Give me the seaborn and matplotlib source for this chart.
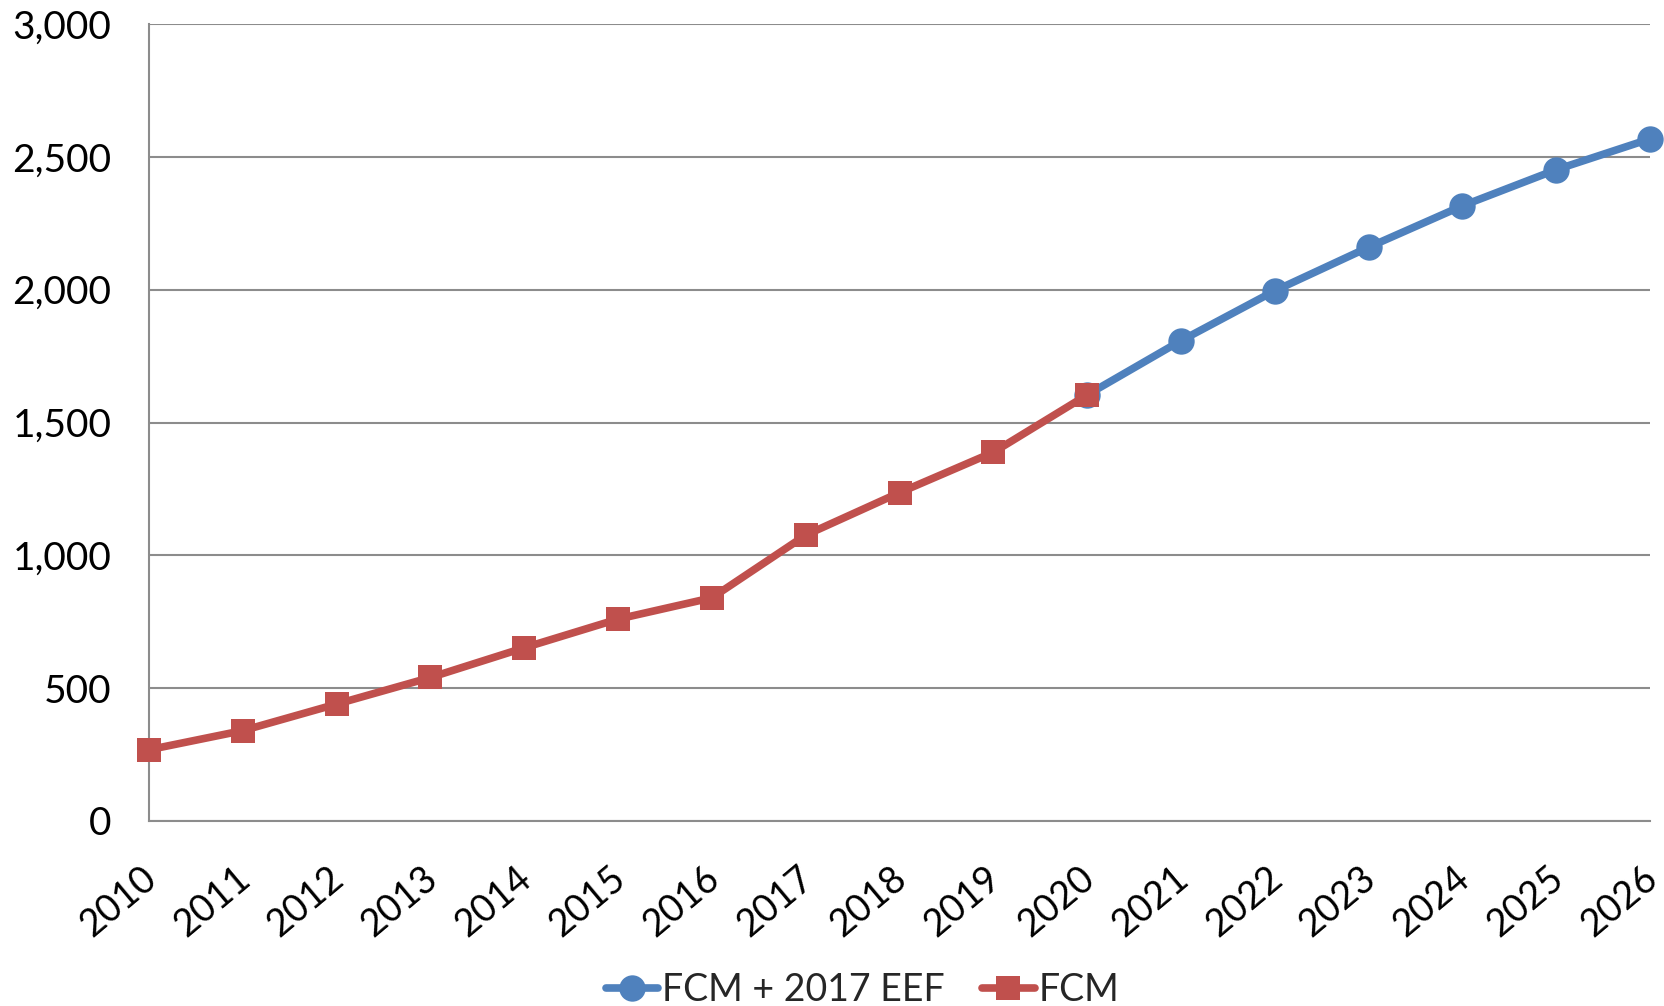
import matplotlib
matplotlib.use("Agg")
import matplotlib.pyplot as plt
import matplotlib.transforms as mtransforms
import pandas as pd
import seaborn as sns

# data
years_fcm = [2010, 2011, 2012, 2013, 2014, 2015, 2016, 2017, 2018, 2019, 2020]
fcm = [268, 340, 440, 540, 652, 760, 840, 1076, 1236, 1388, 1604]
years_eef = [2020, 2021, 2022, 2023, 2024, 2025, 2026]
fcm_eef = [1604, 1808, 1996, 2160, 2316, 2452, 2568]
yticks = [0, 500, 1000, 1500, 2000, 2500, 3000]

sns.set_style("white")
plt.rcParams['font.family'] = ['Lato', 'DejaVu Sans']

df_eef = pd.DataFrame({'Year': years_eef, 'Value': fcm_eef})
df_fcm = pd.DataFrame({'Year': years_fcm, 'Value': fcm})

fig = plt.figure(figsize=(16.65, 10.06), dpi=100)
ax = fig.add_axes([0.0895, 0.184, 0.9015, 0.792])

blue = '#4F81BD'
red = '#C0504D'
grid = '#8C8C8C'

sns.lineplot(data=df_eef, x='Year', y='Value', ax=ax, color=blue, lw=5.5,
             marker='o', markersize=19, markeredgewidth=0, label='FCM + 2017 EEF',
             clip_on=False, zorder=3)
sns.lineplot(data=df_fcm, x='Year', y='Value', ax=ax, color=red, lw=5.5,
             marker='s', markersize=17, markeredgewidth=0, label='FCM',
             clip_on=False, zorder=4)

ax.set_xlim(2010, 2026)
ax.set_ylim(0, 3000)
ax.set_xticks(list(range(2010, 2027)))
ax.set_yticks(yticks)
ax.set_yticklabels([f'{v:,}' for v in yticks])
ax.set_xlabel('')
ax.set_ylabel('')

ax.tick_params(axis='both', colors=grid, labelcolor='black',
               length=13, width=1.5, direction='out')
ax.tick_params(axis='y', labelsize=28, pad=14)
ax.tick_params(axis='x', labelsize=27, pad=12)

# nudge year labels a little left/down, like the original
shift = mtransforms.ScaledTranslation(-9 / 100, -4 / 100, fig.dpi_scale_trans)
for lab in ax.get_xticklabels():
    lab.set_rotation(40)
    lab.set_ha('right')
    lab.set_rotation_mode('anchor')
    lab.set_transform(lab.get_transform() + shift)

ax.yaxis.grid(True, color=grid, lw=1.5)
ax.set_axisbelow(True)
for side in ['top', 'right']:
    ax.spines[side].set_visible(False)
for side in ['left', 'bottom']:
    ax.spines[side].set_color(grid)
    ax.spines[side].set_linewidth(1.5)

ax.get_legend().remove()
handles, labels = ax.get_legend_handles_labels()
fig.legend(handles, labels, loc='lower center', bbox_to_anchor=(0.518, -0.036),
           ncol=2, frameon=False, fontsize=27, handlelength=1.4,
           handletextpad=0.1, columnspacing=1.0)

fig.savefig('out.png', dpi=100)
